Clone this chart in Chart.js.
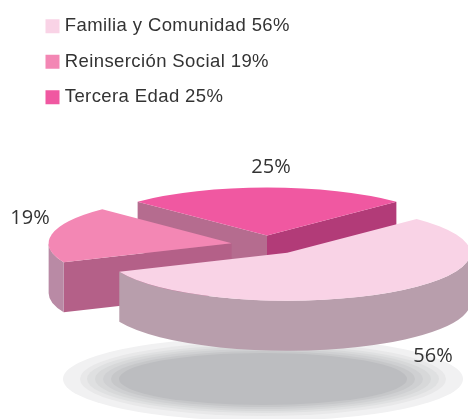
<!DOCTYPE html>
<html>
<head>
<meta charset="utf-8">
<style>
    html, body { margin: 0; padding: 0; background: #fff; }
    canvas { display: block; }
</style>
<script src="https://cdn.jsdelivr.net/npm/chart.js@4"></script>
</head>
<body>
<canvas id="pie3d" width="468" height="419"></canvas>
<script>
// Values
const categories = ['Familia y Comunidad', 'Reinserción Social', 'Tercera Edad'];
const shares = [56, 19, 25];

// Slice colours: top face, rim, and the two cut walls
const faceColors = ['#f9d3e6', '#f387b4', '#f058a1'];
const rimColors = ['#b89eac', '#b98aa5', '#b5708f'];
const startWallColors = ['#b89eac', '#b46088', '#b56c8f'];
const endWallColors = ['#b89eac', '#b46088', '#b23b78'];

// Where the percentage labels sit
const labelX = [433, 30, 271];
const labelY = [356, 218, 167];

// Floor shadow rings, outside to inside
const shadowRx = [200, 183, 176, 168, 160, 152, 144];
const shadowRy = [42, 37, 34, 32, 30, 28, 26];
const shadowColors = ['#f1f1f2', '#e8e8e9', '#dfe0e1', '#d7d8d9', '#cfd0d2', '#c6c7c9', '#bcbdc0'];

const centerX = 267;
const centerY = 245;
const tilt = 0.262;
const depth = 50;
const explode = 36;

// Draws the shadow, extrudes the slices and squashes the pie into perspective
const pie3d = {
    id: 'pie3d',
    beforeDraw(chart) {
        chart.ctx.letterSpacing = '0.4px';
    },
    beforeDatasetDraw(chart) {
        const ctx = chart.ctx;
        const arcs = chart.getDatasetMeta(0).data;
        ctx.letterSpacing = '0px';

        shadowRx.forEach((rx, i) => {
            ctx.fillStyle = shadowColors[i];
            ctx.beginPath();
            ctx.ellipse(263, 379, rx, shadowRy[i], 0, 0, Math.PI * 2);
            ctx.fill();
        });

        ctx.save();
        ctx.translate(centerX, centerY);
        ctx.scale(1, tilt);
        ctx.translate(-arcs[0].x, -arcs[0].y);

        const h = depth / tilt;
        // back slice first, the big front one last
        [2, 1, 0].forEach(i => {
            const arc = arcs[i];
            const r = arc.outerRadius;
            const mid = (arc.startAngle + arc.endAngle) / 2;
            const ox = arc.x + Math.cos(mid) * explode;
            const oy = arc.y + Math.sin(mid) * explode;

            const wall = (angle, color) => {
                const ex = ox + Math.cos(angle) * r;
                const ey = oy + Math.sin(angle) * r;
                ctx.fillStyle = color;
                ctx.beginPath();
                ctx.moveTo(ox, oy);
                ctx.lineTo(ex, ey);
                ctx.lineTo(ex, ey + h);
                ctx.lineTo(ox, oy + h);
                ctx.closePath();
                ctx.fill();
            };
            if (Math.cos(arc.startAngle) < 0) wall(arc.startAngle, startWallColors[i]);
            if (Math.cos(arc.endAngle) > 0) wall(arc.endAngle, endWallColors[i]);

            // only the near part of the rim can be seen
            const from = Math.max(arc.startAngle, 0);
            const to = Math.min(arc.endAngle, Math.PI);
            if (from < to) {
                ctx.fillStyle = rimColors[i];
                ctx.beginPath();
                ctx.arc(ox, oy, r, from, to);
                ctx.arc(ox, oy + h, r, to, from, true);
                ctx.closePath();
                ctx.fill();
            }
        });

        // top faces go over every wall
        arcs.forEach(arc => {
            const mid = (arc.startAngle + arc.endAngle) / 2;
            ctx.save();
            ctx.translate(Math.cos(mid) * explode, Math.sin(mid) * explode);
            arc.draw(ctx);
            ctx.restore();
        });
        ctx.restore();

        ctx.save();
        ctx.font = '20px "Open Sans"';
        ctx.fillStyle = '#333333';
        ctx.textAlign = 'center';
        ctx.textBaseline = 'middle';
        shares.forEach((v, i) => ctx.fillText(v + '%', labelX[i], labelY[i]));
        ctx.restore();

        return false;
    }
};

new Chart(document.getElementById('pie3d'), {
    type: 'pie',
    data: {
        labels: categories.map((name, i) => name + ' ' + shares[i] + '%'),
        datasets: [{
            data: shares,
            backgroundColor: faceColors,
            borderWidth: 0
        }]
    },
    options: {
        responsive: false,
        animation: false,
        rotation: 45,
        radius: 183,
        layout: { padding: { left: 32.5 } },
        plugins: {
            tooltip: { enabled: false },
            legend: {
                position: 'chartArea',
                align: 'start',
                labels: {
                    usePointStyle: true,
                    pointStyle: 'rect',
                    boxWidth: 6,
                    boxHeight: 14,
                    padding: 17,
                    color: '#333333',
                    font: { family: '"Liberation Sans"', size: 18.5 }
                }
            }
        }
    },
    plugins: [pie3d]
});
</script>
</body>
</html>
